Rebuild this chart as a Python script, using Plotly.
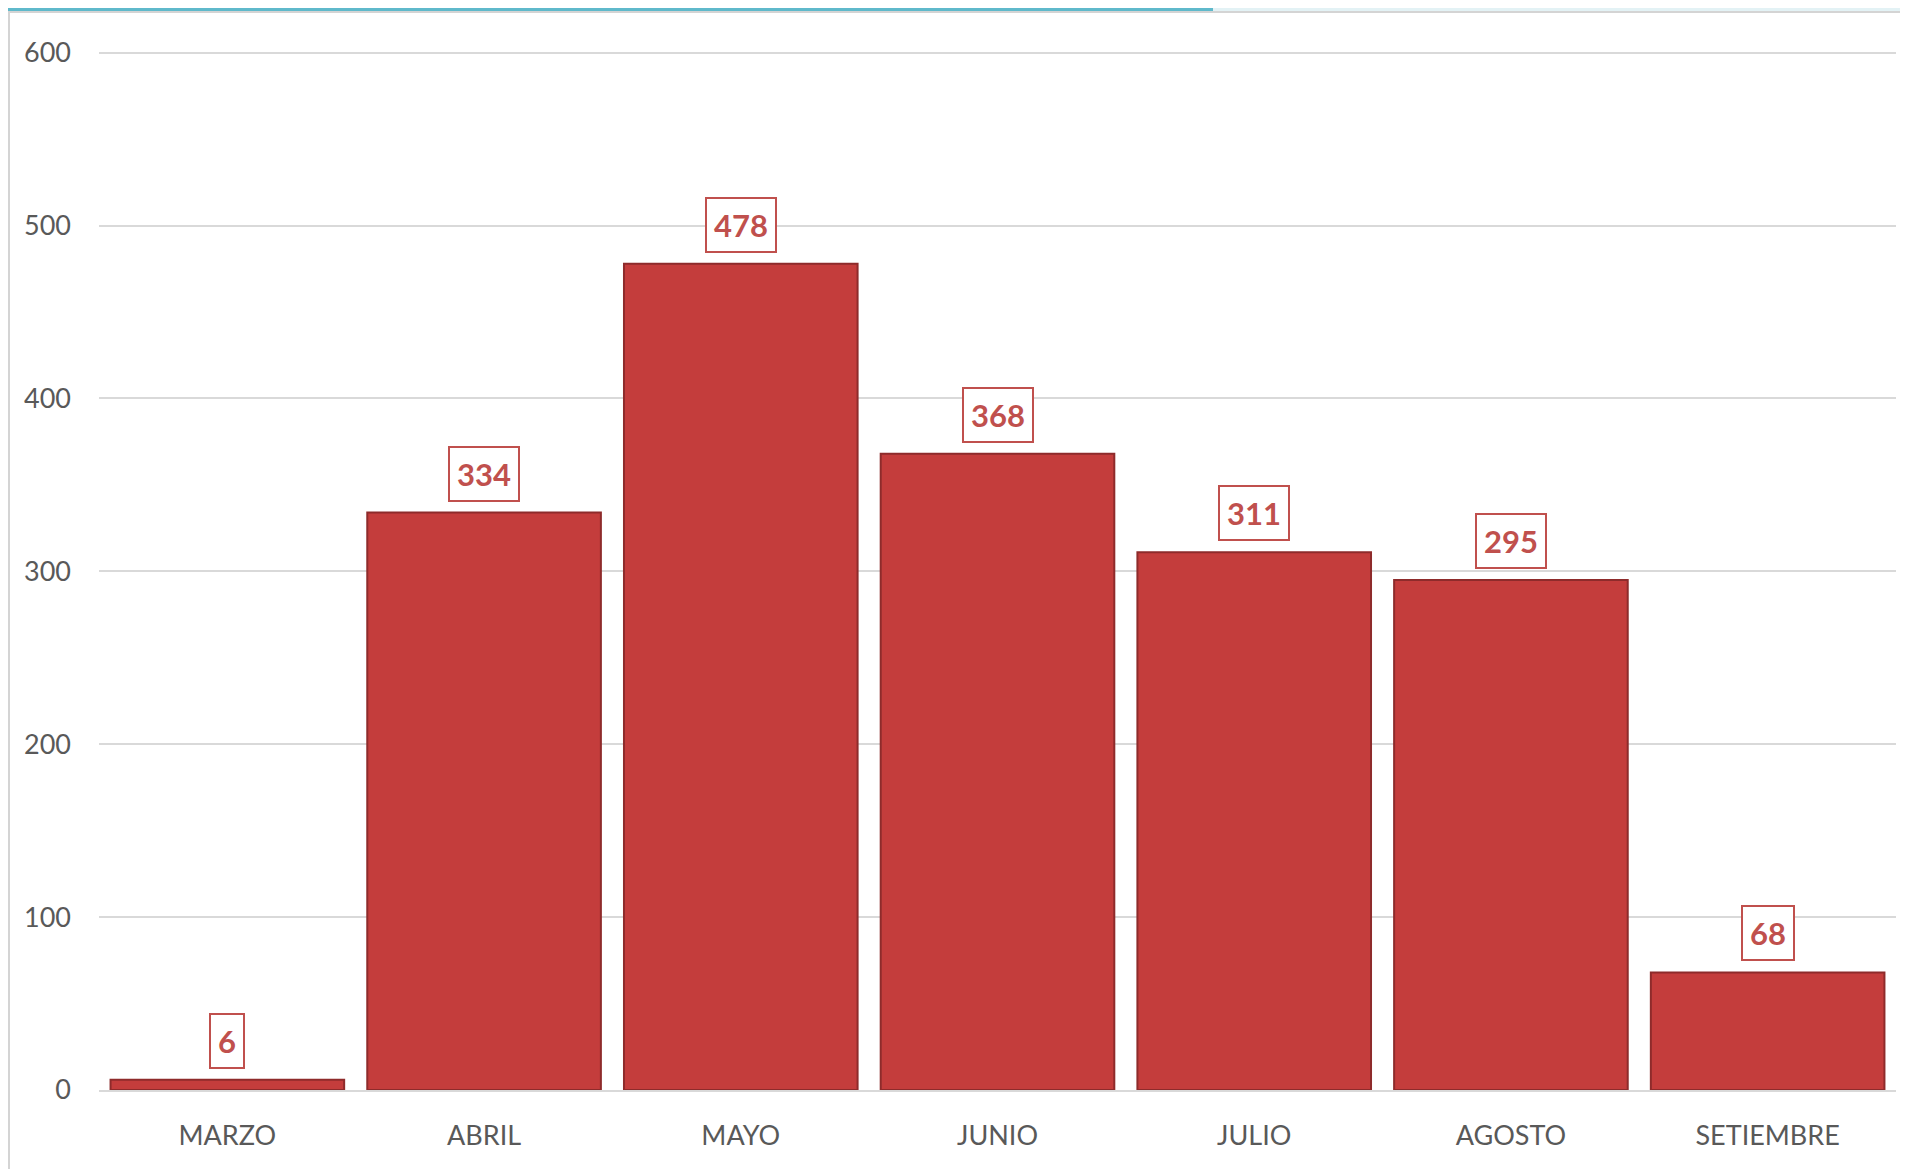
import plotly.graph_objects as go

months = ["MARZO", "ABRIL", "MAYO", "JUNIO", "JULIO", "AGOSTO", "SETIEMBRE"]
values = [6, 334, 478, 368, 311, 295, 68]
y_ticks = [0, 100, 200, 300, 400, 500, 600]

FONT = "Lato, 'Open Sans', sans-serif"
LABEL_RED = "#C0504D"

L, R, T, B = 91, 20, 43, 87
W, H = 1908, 1169
PW, PH = W - L - R, H - T - B

fig = go.Figure()
fig.add_trace(go.Bar(
    x=months, y=values,
    marker=dict(color="#C43D3C", line=dict(color="#8E2B2B", width=2)),
    width=0.91,
    hoverinfo="x+y",
))

for m, v in zip(months, values):
    fig.add_annotation(
        x=m, y=v, text=f"<b>{v}</b>", showarrow=False,
        yanchor="bottom", yshift=11,
        font=dict(family=FONT, size=31, color=LABEL_RED),
        bordercolor=LABEL_RED, borderwidth=2, borderpad=7,
        bgcolor="white",
    )

# chart frame and decorative top band
fig.add_shape(type="rect", xref="paper", yref="paper",
              x0=-(L - 1) / PW, x1=1 + (R + 10) / PW,
              y0=-(B + 10) / PH, y1=1 + (T - 4) / PH,
              line=dict(color="#D4D4D4", width=2), layer="below")
fig.add_shape(type="rect", xref="paper", yref="paper",
              x0=-(L + 10) / PW, x1=0.62, y0=1 + (T - 3) / PH, y1=1 + (T + 5) / PH,
              fillcolor="#5FB9CB", line=dict(width=0), layer="below")
fig.add_shape(type="rect", xref="paper", yref="paper",
              x0=0.62, x1=1 + (R + 10) / PW, y0=1 + (T - 3) / PH, y1=1 + (T + 5) / PH,
              fillcolor="#E3F2F5", line=dict(width=0), layer="below")

fig.update_layout(
    width=W, height=H,
    margin=dict(l=L, r=R, t=T, b=B),
    paper_bgcolor="white", plot_bgcolor="white",
    showlegend=False, bargap=0.09,
    font=dict(family=FONT, color="#595959"),
    xaxis=dict(
        showgrid=False, showline=True, linecolor="#D9D9D9", linewidth=2,
        ticks="", tickfont=dict(size=27, color="#595959", family=FONT),
        ticklabelstandoff=21,
    ),
    yaxis=dict(
        range=[0, 601], tickvals=y_ticks, showgrid=True,
        gridcolor="#D9D9D9", gridwidth=2, zeroline=False, showline=False,
        tickfont=dict(size=27, color="#595959", family=FONT),
        ticklabelstandoff=27,
    ),
)

fig.write_html("out.html")
